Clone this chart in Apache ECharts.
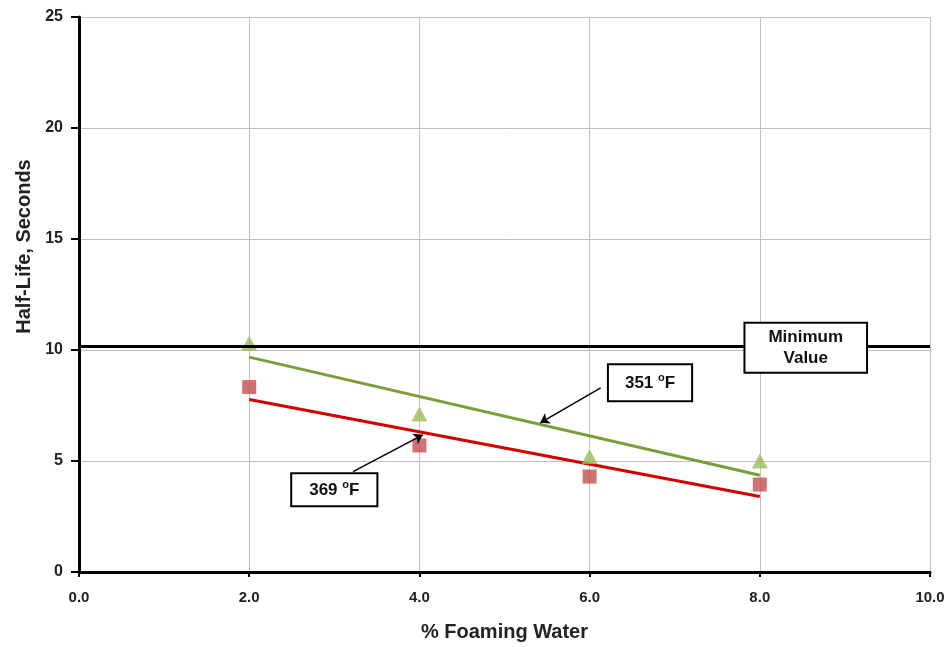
<!DOCTYPE html>
<html>
<head>
<meta charset="utf-8">
<script src="https://cdn.jsdelivr.net/npm/echarts@6/dist/echarts.min.js"></script>
<style>
  html, body { margin: 0; padding: 0; background: #fff; }
  #chart { width: 951px; height: 647px; }
</style>
</head>
<body>
<div id="chart"></div>
<script>
// measured points (% foaming water, half-life s)
const water = [2, 4, 6, 8]
const halfLife351 = [10.3, 7.12, 5.2, 5.0]
const halfLife369 = [8.33, 5.7, 4.3, 3.94]

// trend lines at x = 2 and x = 8
const trendX = [2, 8]
const trend351 = [9.68, 4.36]
const trend369 = [7.77, 3.40]

const minimumValue = 10.15

// annotation arrows [from, to] in data coords
const arrow351 = [[6.13, 8.29], [5.42, 6.72]]
const arrow369 = [[3.22, 4.52], [4.04, 6.18]]

// annotation boxes: centre in data coords
const boxes = [
  { name: 'min', coord: [8.54, 10.1], text: 'Minimum\nValue', pad: [3, 23] },
  { name: '351', coord: [6.71, 8.52], text: '351 {s|o}F', pad: [7, 16] },
  { name: '369', coord: [3.0, 3.7], text: '369 {s|o}F', pad: [5, 17] }
]

const pairs = (xs, ys) => xs.map((x, i) => [x, ys[i]])

const font = '"Liberation Sans", Arial, sans-serif'

const chart = echarts.init(document.getElementById('chart'))

const option = {
  animation: false,
  backgroundColor: '#fff',
  grid: { left: 79, right: 21, top: 17, bottom: 72 },
  xAxis: {
    type: 'value',
    min: 0,
    max: 10,
    interval: 2,
    name: '% Foaming Water',
    nameLocation: 'middle',
    nameGap: 50,
    nameTextStyle: { fontFamily: font, fontWeight: 'bold', fontSize: 20, color: '#222' },
    axisLine: { lineStyle: { color: '#000', width: 3 } },
    axisTick: { show: true, length: 5, lineStyle: { color: '#000', width: 2 } },
    axisLabel: {
      margin: 18,
      formatter: v => v.toFixed(1),
      fontFamily: font,
      fontWeight: 'bold',
      fontSize: 15,
      color: '#222'
    },
    splitLine: { show: true, lineStyle: { color: '#c0c0c0', width: 1 } }
  },
  yAxis: {
    type: 'value',
    min: 0,
    max: 25,
    interval: 5,
    name: 'Half-Life, Seconds',
    nameLocation: 'middle',
    nameGap: 38,
    nameTextStyle: {
      fontFamily: font,
      fontWeight: 'bold',
      fontSize: 20,
      color: '#222',
      padding: [0, 0, 0, 96]
    },
    axisLine: { lineStyle: { color: '#000', width: 3 } },
    axisTick: { show: true, length: 8, lineStyle: { color: '#000', width: 2 } },
    axisLabel: { margin: 16, fontFamily: font, fontWeight: 'bold', fontSize: 16, color: '#222' },
    splitLine: { show: true, lineStyle: { color: '#c0c0c0', width: 1 } }
  },
  series: [
    {
      name: 'minimum',
      type: 'line',
      data: [],
      z: 2,
      markLine: {
        silent: true,
        symbol: 'none',
        label: { show: false },
        lineStyle: { color: '#000', width: 3, type: 'solid' },
        data: [{ yAxis: minimumValue }]
      }
    },
    {
      name: '351 trend',
      type: 'line',
      data: pairs(trendX, trend351),
      symbol: 'none',
      lineStyle: { color: '#7a9e3a', width: 3 },
      z: 3
    },
    {
      name: '369 trend',
      type: 'line',
      data: pairs(trendX, trend369),
      symbol: 'none',
      lineStyle: { color: '#d40000', width: 3 },
      z: 3
    },
    {
      name: '351 °F',
      type: 'scatter',
      data: pairs(water, halfLife351),
      symbol: 'triangle',
      symbolSize: [16, 15],
      itemStyle: { color: '#9bbb59' },
      z: 4
    },
    {
      name: '369 °F',
      type: 'scatter',
      data: pairs(water, halfLife369),
      symbol: 'rect',
      symbolSize: 14,
      itemStyle: { color: '#c0504d' },
      z: 4
    },
    {
      name: 'arrows',
      type: 'line',
      data: [],
      z: 5,
      markLine: {
        silent: true,
        symbol: ['none', 'arrow'],
        symbolSize: 9,
        label: { show: false },
        lineStyle: { color: '#000', width: 1.5, type: 'solid' },
        data: [
          [{ coord: arrow351[0] }, { coord: arrow351[1] }],
          [{ coord: arrow369[0] }, { coord: arrow369[1] }]
        ]
      }
    },
    {
      name: 'boxes',
      type: 'line',
      data: [],
      z: 6,
      markPoint: {
        silent: true,
        symbol: 'circle',
        symbolSize: 0,
        label: {
          show: true,
          position: 'inside',
          align: 'center',
          verticalAlign: 'middle',
          color: '#111',
          fontFamily: font,
          fontWeight: 'bold',
          fontSize: 17,
          lineHeight: 21,
          backgroundColor: '#fff',
          borderColor: '#000',
          borderWidth: 2,
          rich: {
            s: { fontSize: 11, fontWeight: 'bold', color: '#111', padding: [0, 0, 9, 0], fontFamily: font }
          }
        },
        data: boxes.map(b => ({
          name: b.name,
          coord: b.coord,
          label: { formatter: b.text, padding: b.pad }
        }))
      }
    }
  ]
}

chart.setOption(option)
</script>
</body>
</html>
